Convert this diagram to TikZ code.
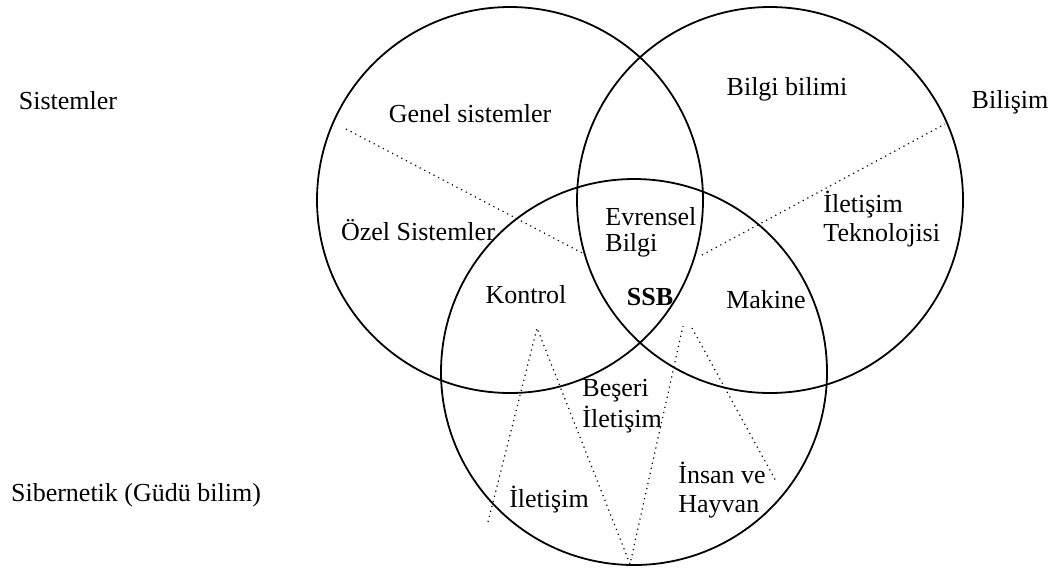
\documentclass[tikz,border=0pt]{standalone}
\usepackage{fontspec}
\setmainfont{Liberation Serif}
\usepackage{tikz}
\tikzstyle{ring} = [circle, draw=black, line width=0.9pt, minimum size=193pt, inner sep=0pt]
\tikzstyle{word} = [inner sep=0pt, font=\fontsize{13}{15}\selectfont]
\tikzstyle{words} = [word, align=left, anchor=west]
\tikzstyle{divide} = [dotted, line width=0.6pt]

\begin{document}
\begin{tikzpicture}[x=0.5pt,y=-0.5pt]
        \useasboundingbox (0,0) rectangle (1052,570);

        \draw (510,200) node[ring] (sis) {} (770,200) node[ring] (bil) {} (634,372) node[ring]
        (sib) {};

        \draw (68,101) node[word] (tsis) {Sistemler};
        \draw (1010,102) node[word] (tbil) {Bilişim};
        \draw (136,495) node[word] (tsib) {Sibernetik (Güdü bilim)};

        \draw (470,114) node[word] (genel) {Genel sistemler};
        \draw (418,230) node[word] (ozel) {Özel Sistemler};
        \draw (787,89) node[word] (bilgi) {Bilgi bilimi};
        \draw (823,219) node[words, font=\fontsize{13}{14.5}\selectfont] (tekno) {İletişim\\Teknolojisi};
        \draw (605,232) node[words, font=\fontsize{13}{13}\selectfont] (evren) {Evrensel\\Bilgi};
        \draw (526,295) node[word] (kontrol) {Kontrol};
        \draw (650,297) node[word, font=\fontsize{13}{15}\selectfont\bfseries] (ssb) {SSB};
        \draw (766,300) node[word] (makine) {Makine};
        \draw (582,406) node[words, font=\fontsize{13}{15.5}\selectfont] (beseri) {Beşeri\\İletişim};
        \draw (549,500) node[word] (ilet) {İletişim};
        \draw (678,490) node[words, font=\fontsize{13}{14.5}\selectfont] (insan) {İnsan ve\\Hayvan};

        % dividers in the upper circles
        \coordinate (g0) at (346,129);
        \coordinate (g1) at (586,255);
        \coordinate (b0) at (702,255);
        \coordinate (b1) at (945,124);
        \draw[divide] (g0) -- (g1);
        \draw[divide] (b0) -- (b1);

        % zigzag in the lower circle
        \coordinate (z0) at (488,522);
        \coordinate (z1) at (537,328);
        \coordinate (z2) at (630,564);
        \coordinate (z3) at (683,326);
        \coordinate (h0) at (692,328);
        \coordinate (h1) at (777,483);
        \draw[divide] (z0) -- (z1) -- (z2) -- (z3);
        \draw[divide] (h0) -- (h1);
\end{tikzpicture}
\end{document}
